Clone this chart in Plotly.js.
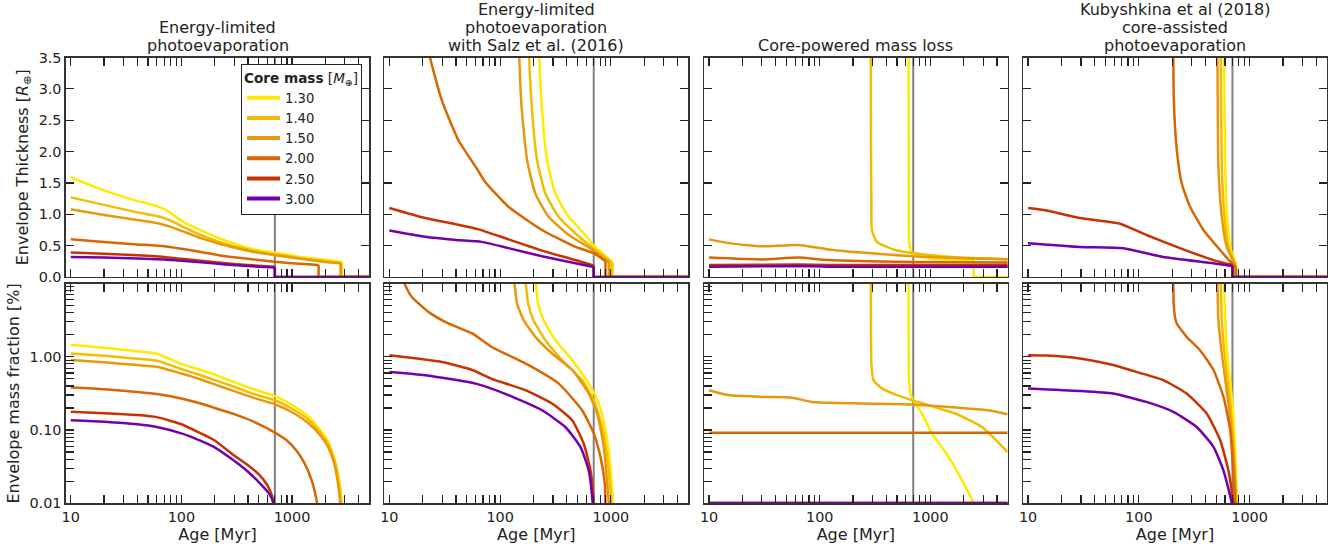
<!DOCTYPE html>
<html><head><meta charset="utf-8">
<script src="https://cdn.plot.ly/plotly-3.0.1.min.js"></script>
<style>html,body{margin:0;padding:0;background:#fff}#plot{width:1343px;height:550px}</style>
</head><body><div id="plot"></div><script>
// ---------------- DATA ----------------
const masses = ['1.30','1.40','1.50','2.00','2.50','3.00'];
const referenceAge = 700;
const panelTitles = [
  ['Energy-limited','photoevaporation'],
  ['Energy-limited','photoevaporation','with Salz et al. (2016)'],
  ['Core-powered mass loss'],
  ['Kubyshkina et al (2018)','core-assisted','photoevaporation']
];
const ageTicks = [10,20,30,40,50,60,70,80,90,100,200,300,400,500,600,700,800,900,1000,2000,3000,4000];
const ageTickLabels = {10:'10',100:'100',1000:'1000'};
const thickTicks = [0,0.5,1,1.5,2,2.5,3,3.5];
const fracTicks = [0.01,0.02,0.03,0.04,0.05,0.06,0.07,0.08,0.09,0.1,0.2,0.3,0.4,0.5,0.6,0.7,0.8,0.9,1,2,3,4,5,6,7,8,9,10];
const fracTickLabels = {0.01:'0.01',0.1:'0.10',1:'1.00'};

// Energy-limited: envelope thickness [R_earth]
const el_R_130_t = [10, 18, 37, 60, 74, 104, 148, 209, 295, 449, 690, 1186, 2376, 2830, 2830, 5500];
const el_R_130_v = [1.59, 1.41, 1.23, 1.13, 1.06, 0.88, 0.75, 0.63, 0.54, 0.44, 0.39, 0.32, 0.26, 0.24, 0, 0];
const el_R_140_t = [10, 20, 40, 64, 80, 110, 150, 210, 300, 450, 690, 1200, 2000, 2780, 2780, 5500];
const el_R_140_v = [1.27, 1.15, 1.03, 0.96, 0.90, 0.78, 0.67, 0.57, 0.49, 0.42, 0.36, 0.30, 0.25, 0.22, 0, 0];
const el_R_150_t = [10, 20, 40, 64, 80, 110, 150, 210, 300, 450, 690, 1200, 2000, 2750, 2750, 5500];
const el_R_150_v = [1.08, 0.99, 0.91, 0.85, 0.80, 0.71, 0.62, 0.54, 0.47, 0.40, 0.35, 0.29, 0.24, 0.22, 0, 0];
const el_R_200_t = [10, 20, 40, 70, 100, 150, 250, 400, 690, 1000, 1740, 1740, 5500];
const el_R_200_v = [0.60, 0.56, 0.52, 0.49, 0.45, 0.40, 0.33, 0.29, 0.245, 0.22, 0.19, 0, 0];
const el_R_250_t = [10, 20, 40, 70, 100, 150, 250, 400, 700, 700, 5500];
const el_R_250_v = [0.39, 0.37, 0.345, 0.32, 0.29, 0.26, 0.22, 0.19, 0.165, 0, 0];
const el_R_300_t = [10, 20, 40, 70, 100, 150, 250, 400, 700, 700, 5500];
const el_R_300_v = [0.32, 0.31, 0.295, 0.28, 0.26, 0.235, 0.20, 0.175, 0.15, 0, 0];
// Energy-limited: envelope mass fraction [%]
const el_F_130_t = [10, 20, 40, 60, 100, 150, 200, 300, 450, 700, 1000, 1400, 1800, 2100, 2400, 2650, 2800, 2860];
const el_F_130_v = [1.46, 1.33, 1.19, 1.10, 0.80, 0.66, 0.57, 0.45, 0.36, 0.29, 0.22, 0.155, 0.10, 0.072, 0.042, 0.022, 0.012, 0.005];
const el_F_140_t = [10, 20, 40, 60, 100, 150, 200, 300, 450, 700, 1000, 1400, 1800, 2100, 2400, 2620, 2760, 2820];
const el_F_140_v = [1.11, 1.03, 0.94, 0.88, 0.68, 0.56, 0.48, 0.39, 0.31, 0.255, 0.195, 0.14, 0.092, 0.066, 0.04, 0.021, 0.011, 0.005];
const el_F_150_t = [10, 20, 40, 60, 100, 150, 200, 300, 450, 700, 1000, 1400, 1800, 2100, 2400, 2600, 2730, 2790];
const el_F_150_v = [0.90, 0.84, 0.77, 0.73, 0.59, 0.49, 0.42, 0.34, 0.275, 0.225, 0.175, 0.125, 0.085, 0.06, 0.036, 0.019, 0.01, 0.005];
const el_F_200_t = [10, 20, 40, 60, 100, 150, 200, 300, 450, 700, 900, 1100, 1300, 1500, 1650, 1740, 1770];
const el_F_200_v = [0.38, 0.36, 0.33, 0.31, 0.27, 0.23, 0.20, 0.165, 0.13, 0.092, 0.072, 0.052, 0.035, 0.021, 0.012, 0.007, 0.004];
const el_F_250_t = [10, 20, 40, 60, 100, 150, 200, 300, 400, 500, 600, 660, 700, 710];
const el_F_250_v = [0.177, 0.17, 0.16, 0.15, 0.12, 0.09, 0.072, 0.045, 0.033, 0.025, 0.0175, 0.0125, 0.007, 0.003];
const el_F_300_t = [10, 20, 40, 60, 100, 150, 200, 300, 400, 500, 600, 660, 700, 710];
const el_F_300_v = [0.136, 0.13, 0.12, 0.11, 0.09, 0.071, 0.058, 0.038, 0.027, 0.0195, 0.0145, 0.0115, 0.007, 0.003];

// Energy-limited with Salz et al. (2016)
const sz_R_130_t = [215, 226, 239, 265, 315, 416, 589, 700, 850, 1040, 1040, 5500];
const sz_R_130_v = [6, 3.5, 2.66, 1.87, 1.33, 0.96, 0.67, 0.50, 0.37, 0.23, 0, 0];
const sz_R_140_t = [174, 183, 194, 215, 256, 338, 496, 700, 850, 1014, 1014, 5500];
const sz_R_140_v = [6, 3.5, 2.66, 1.87, 1.33, 0.96, 0.67, 0.45, 0.34, 0.23, 0, 0];
const sz_R_150_t = [141, 149, 157, 175, 208, 274, 416, 677, 800, 957, 957, 5500];
const sz_R_150_v = [6, 3.5, 2.66, 1.87, 1.33, 0.96, 0.67, 0.44, 0.34, 0.24, 0, 0];
const sz_R_200_t = [20, 23.3, 29.7, 42, 60, 73, 119, 239, 479, 700, 893, 893, 5500];
const sz_R_200_v = [4.2, 3.5, 2.82, 2.18, 1.76, 1.52, 1.12, 0.75, 0.48, 0.38, 0.25, 0, 0];
const sz_R_250_t = [10, 21, 40, 64, 119, 239, 479, 700, 700, 5500];
const sz_R_250_v = [1.10, 0.94, 0.84, 0.76, 0.60, 0.42, 0.27, 0.18, 0, 0];
const sz_R_300_t = [10, 21, 40, 68, 119, 239, 479, 700, 700, 5500];
const sz_R_300_v = [0.74, 0.64, 0.59, 0.56, 0.46, 0.33, 0.22, 0.16, 0, 0];
const sz_F_130_t = [205, 211, 220, 247, 315, 447, 631, 778, 893, 971, 1040, 1050];
const sz_F_130_v = [15, 9.8, 5.35, 3.16, 1.69, 0.90, 0.43, 0.23, 0.10, 0.043, 0.01, 0.005];
const sz_F_140_t = [168, 171, 179, 200, 256, 362, 550, 700, 834, 926, 1014, 1020];
const sz_F_140_v = [15, 9.8, 5.35, 3.16, 1.69, 0.90, 0.48, 0.255, 0.11, 0.043, 0.01, 0.005];
const sz_F_150_t = [130, 135, 142, 163, 208, 294, 447, 631, 752, 863, 957, 965];
const sz_F_150_v = [15, 9.8, 5.35, 3.16, 1.87, 1.11, 0.66, 0.315, 0.168, 0.059, 0.01, 0.005];
const sz_F_200_t = [12.5, 13.8, 15.9, 22.5, 34, 56, 84, 169, 338, 550, 700, 805, 881, 893, 900];
const sz_F_200_v = [15, 9.8, 6.6, 4.1, 2.85, 2.08, 1.36, 0.81, 0.43, 0.186, 0.09, 0.043, 0.0186, 0.01, 0.005];
const sz_F_250_t = [10, 14.8, 30, 56, 84, 169, 294, 447, 569, 655, 700, 710];
const sz_F_250_v = [1.05, 0.98, 0.85, 0.66, 0.50, 0.35, 0.23, 0.136, 0.065, 0.028, 0.01, 0.005];
const sz_F_300_t = [10, 21, 60, 119, 239, 388, 531, 631, 685, 700];
const sz_F_300_v = [0.62, 0.56, 0.43, 0.30, 0.186, 0.11, 0.059, 0.028, 0.01, 0.005];

// Core-powered mass loss
const cp_R_130_t = [633, 635, 638, 641, 660, 700, 964, 1500, 2460, 2460, 5500];
const cp_R_130_v = [6, 3.5, 1.5, 0.6, 0.44, 0.35, 0.30, 0.28, 0.27, 0, 0];
const cp_R_140_t = [288, 290, 291, 293, 296, 329, 481, 964, 1932, 5500];
const cp_R_140_v = [6, 3.5, 2.0, 1.23, 0.75, 0.56, 0.43, 0.35, 0.31, 0.28];
const cp_R_150_t = [10, 15, 30, 64, 120, 240, 682, 1932, 5500];
const cp_R_150_v = [0.60, 0.54, 0.49, 0.51, 0.44, 0.39, 0.33, 0.30, 0.28];
const cp_R_200_t = [10, 30, 64, 120, 682, 5500];
const cp_R_200_v = [0.31, 0.28, 0.31, 0.27, 0.24, 0.23];
const cp_R_250_t = [10, 64, 120, 5500];
const cp_R_250_v = [0.19, 0.20, 0.19, 0.19];
const cp_R_300_t = [10, 64, 120, 5500];
const cp_R_300_v = [0.165, 0.175, 0.165, 0.165];
const cp_F_130_t = [633, 635, 636, 638, 645, 658, 700, 839, 1035, 1462, 1932, 2460, 2480];
const cp_F_130_v = [30, 9.8, 2.0, 0.66, 0.42, 0.32, 0.255, 0.168, 0.09, 0.043, 0.0206, 0.01, 0.008];
const cp_F_140_t = [288, 290, 291, 293, 306, 365, 553, 964, 1679, 2931, 5000];
const cp_F_140_v = [30, 9.8, 2.0, 0.81, 0.48, 0.37, 0.283, 0.218, 0.168, 0.11, 0.05];
const cp_F_150_t = [10, 15, 30, 55, 85, 240, 682, 1932, 3365, 5000];
const cp_F_150_v = [0.35, 0.30, 0.283, 0.278, 0.242, 0.23, 0.223, 0.20, 0.186, 0.164];
const cp_F_200_t = [10, 5000];
const cp_F_200_v = [0.092, 0.092];
const cp_F_250_t = [10, 5000];
const cp_F_250_v = [0.0101, 0.0101];
const cp_F_300_t = [10, 5000];
const cp_F_300_v = [0.0101, 0.0101];

// Kubyshkina et al (2018) core-assisted photoevaporation
const ku_R_130_t = [586, 589, 602, 627, 668, 755, 755, 5500];
const ku_R_130_v = [6, 3.5, 1.76, 0.96, 0.48, 0.19, 0, 0];
const ku_R_140_t = [547, 550, 561, 593, 644, 749, 749, 5500];
const ku_R_140_v = [6, 3.5, 1.76, 0.96, 0.48, 0.19, 0, 0];
const ku_R_150_t = [510, 513, 523, 561, 622, 741, 741, 5500];
const ku_R_150_v = [6, 3.5, 1.76, 0.96, 0.48, 0.19, 0, 0];
const ku_R_200_t = [204, 205, 207, 220, 244, 290, 383, 542, 714, 755, 755, 5500];
const ku_R_200_v = [6, 3.5, 2.82, 2.03, 1.49, 1.12, 0.75, 0.43, 0.19, 0.15, 0, 0];
const ku_R_250_t = [10, 14.6, 29.3, 67.4, 117, 235, 472, 700, 700, 5500];
const ku_R_250_v = [1.10, 1.06, 0.94, 0.85, 0.67, 0.46, 0.27, 0.19, 0, 0];
const ku_R_300_t = [10, 29.3, 72.3, 166, 472, 700, 700, 5500];
const ku_R_300_v = [0.54, 0.48, 0.46, 0.32, 0.22, 0.175, 0, 0];
const ku_F_130_t = [586, 589, 602, 627, 700, 741, 770, 775];
const ku_F_130_v = [30, 9.8, 3.16, 1.11, 0.23, 0.05, 0.01, 0.005];
const ku_F_140_t = [547, 550, 561, 593, 668, 722, 760, 765];
const ku_F_140_v = [30, 9.8, 3.16, 1.11, 0.23, 0.05, 0.01, 0.005];
const ku_F_150_t = [510, 513, 523, 561, 644, 714, 755, 760];
const ku_F_150_v = [30, 9.8, 3.16, 1.11, 0.23, 0.05, 0.01, 0.005];
const ku_F_200_t = [204, 205, 206, 212, 220, 270, 357, 472, 581, 668, 741, 750];
const ku_F_200_v = [30, 9.8, 5.5, 3.5, 2.85, 1.87, 1.23, 0.66, 0.283, 0.10, 0.01, 0.005];
const ku_F_250_t = [10, 14.6, 29.3, 58.7, 83, 166, 270, 410, 542, 644, 714, 720];
const ku_F_250_v = [1.05, 1.04, 0.95, 0.77, 0.66, 0.48, 0.315, 0.168, 0.073, 0.028, 0.01, 0.005];
const ku_F_300_t = [10, 29.3, 58.7, 117, 205, 333, 472, 581, 690, 700];
const ku_F_300_v = [0.37, 0.342, 0.315, 0.242, 0.177, 0.11, 0.059, 0.028, 0.01, 0.005];

// ---------------- ASSEMBLY ----------------
const panels = [
  {R:[[el_R_130_t,el_R_130_v],[el_R_140_t,el_R_140_v],[el_R_150_t,el_R_150_v],[el_R_200_t,el_R_200_v],[el_R_250_t,el_R_250_v],[el_R_300_t,el_R_300_v]],
   F:[[el_F_130_t,el_F_130_v],[el_F_140_t,el_F_140_v],[el_F_150_t,el_F_150_v],[el_F_200_t,el_F_200_v],[el_F_250_t,el_F_250_v],[el_F_300_t,el_F_300_v]]},
  {R:[[sz_R_130_t,sz_R_130_v],[sz_R_140_t,sz_R_140_v],[sz_R_150_t,sz_R_150_v],[sz_R_200_t,sz_R_200_v],[sz_R_250_t,sz_R_250_v],[sz_R_300_t,sz_R_300_v]],
   F:[[sz_F_130_t,sz_F_130_v],[sz_F_140_t,sz_F_140_v],[sz_F_150_t,sz_F_150_v],[sz_F_200_t,sz_F_200_v],[sz_F_250_t,sz_F_250_v],[sz_F_300_t,sz_F_300_v]]},
  {R:[[cp_R_130_t,cp_R_130_v],[cp_R_140_t,cp_R_140_v],[cp_R_150_t,cp_R_150_v],[cp_R_200_t,cp_R_200_v],[cp_R_250_t,cp_R_250_v],[cp_R_300_t,cp_R_300_v]],
   F:[[cp_F_130_t,cp_F_130_v],[cp_F_140_t,cp_F_140_v],[cp_F_150_t,cp_F_150_v],[cp_F_200_t,cp_F_200_v],[cp_F_250_t,cp_F_250_v],[cp_F_300_t,cp_F_300_v]]},
  {R:[[ku_R_130_t,ku_R_130_v],[ku_R_140_t,ku_R_140_v],[ku_R_150_t,ku_R_150_v],[ku_R_200_t,ku_R_200_v],[ku_R_250_t,ku_R_250_v],[ku_R_300_t,ku_R_300_v]],
   F:[[ku_F_130_t,ku_F_130_v],[ku_F_140_t,ku_F_140_v],[ku_F_150_t,ku_F_150_v],[ku_F_200_t,ku_F_200_v],[ku_F_250_t,ku_F_250_v],[ku_F_300_t,ku_F_300_v]]}
];

// ---------------- STYLE / LAYOUT ----------------
const FONT = 'DejaVu Sans';
const W = 1343, H = 550;
const colors = ['#FFEA00','#F0BE00','#E8980A','#D96600','#C83200','#7300AA'];
const colPx = [[65.7,369.3],[384.3,688.3],[704,1007.7],[1023,1327]];
const rowPx = [[57.5,277],[283.5,503.3]];
const lineW = 2.5;

const traces = [];
const layout = {
  width: W, height: H, margin:{l:0,r:0,t:0,b:0},
  paper_bgcolor:'#fff', plot_bgcolor:'#fff',
  font:{family:FONT, size:14.4, color:'#222'},
  showlegend:true,
  legend:{x:362/W, xanchor:'right', y:1-64/H, yanchor:'top',
    bgcolor:'#fff', bordercolor:'#222', borderwidth:1,
    font:{family:FONT,size:13.2,color:'#222'}, itemwidth:33, tracegroupgap:0,
    title:{text:'<b>Core mass</b> [<i>M</i><sub>⊕</sub>]', font:{family:FONT,size:13.6,color:'#222'}, side:'top'}},
  annotations:[]
};

const common = {showline:true, linecolor:'#333', linewidth:1.3, ticks:'inside', ticklen:8, tickwidth:1.2,
  tickcolor:'#222', showgrid:false, zeroline:false, tickfont:{family:FONT,size:14.4,color:'#222'}, fixedrange:true};

function addSeries(tArr, vArr, xn, yn, color) {
  // smooth part drawn as spline; a final drop to zero (envelope lost) drawn straight
  const k = vArr.indexOf(0);
  const cut = k > 0 ? k : tArr.length;
  traces.push({x:tArr.slice(0, cut), y:vArr.slice(0, cut), xaxis:xn, yaxis:yn, mode:'lines',
    line:{color:color, width:lineW, shape:'spline', smoothing:0.5}, showlegend:false, hoverinfo:'skip'});
  if (k > 0) {
    traces.push({x:tArr.slice(k - 1), y:vArr.slice(k - 1), xaxis:xn, yaxis:yn, mode:'lines',
      line:{color:color, width:lineW}, showlegend:false, hoverinfo:'skip'});
  }
}

for (let r = 0; r < 2; r++) {
  for (let c = 0; c < 4; c++) {
    const idx = r*4 + c + 1;
    const xn = 'x' + (idx === 1 ? '' : idx), yn = 'y' + (idx === 1 ? '' : idx);
    const xa = Object.assign({}, common, {
      type:'log', range:[Math.log10(9), Math.log10(5000)],
      domain:[colPx[c][0]/W, colPx[c][1]/W], anchor:yn, mirror:'ticks',
      tickmode:'array', tickvals:ageTicks,
      ticktext: ageTicks.map(v => ageTickLabels[v] || ''),
      showticklabels: r === 1
    });
    if (r === 1) xa.title = {text:'Age [Myr]', font:{family:FONT,size:16,color:'#222'}, standoff:4};
    let ya;
    if (r === 0) {
      ya = Object.assign({}, common, {
        range:[0,3.5], domain:[1-rowPx[0][1]/H, 1-rowPx[0][0]/H], anchor:xn, mirror:'ticks',
        tickmode:'array', tickvals:thickTicks, ticktext:thickTicks.map(v => v.toFixed(1)),
        showticklabels: c === 0
      });
      if (c === 0) ya.title = {text:'Envelope Thickness [<i>R</i><sub>⊕</sub>]', font:{family:FONT,size:16,color:'#222'}, standoff:6};
    } else {
      ya = Object.assign({}, common, {
        type:'log', range:[-2,1], domain:[1-rowPx[1][1]/H, 1-rowPx[1][0]/H], anchor:xn, mirror:true,
        tickmode:'array', tickvals:fracTicks, ticktext:fracTicks.map(v => fracTickLabels[v] || ''),
        showticklabels: c === 0
      });
      if (c === 0) ya.title = {text:'Envelope mass fraction [%]', font:{family:FONT,size:16,color:'#222'}, standoff:6};
    }
    layout['xaxis' + (idx === 1 ? '' : idx)] = xa;
    layout['yaxis' + (idx === 1 ? '' : idx)] = ya;

    // reference age vertical line
    const yl = r === 0 ? [0, 3.5] : [0.01, 10];
    traces.push({x:[referenceAge, referenceAge], y:yl, xaxis:xn, yaxis:yn, mode:'lines',
      line:{color:'#808080', width:2}, showlegend:false, hoverinfo:'skip'});

    const set = r === 0 ? panels[c].R : panels[c].F;
    set.forEach((s, i) => addSeries(s[0], s[1], xn, yn, colors[i]));
  }
}
// legend entries
masses.forEach((m, i) => {
  traces.push({x:[null], y:[null], xaxis:'x', yaxis:'y', mode:'lines', name:m,
    line:{color:colors[i], width:4}, showlegend:true});
});

// panel titles
panelTitles.forEach((lines, c) => {
  const cx = (colPx[c][0] + colPx[c][1]) / 2 / W;
  const n = lines.length;
  lines.forEach((txt, k) => {
    const py = 45.5 - 18 * (n - 1 - k);
    layout.annotations.push({text:txt, xref:'paper', yref:'paper', x:cx, y:1 - py/H,
      xanchor:'center', yanchor:'middle', showarrow:false, borderpad:0,
      font:{family:FONT, size:16, color:'#222'}});
  });
});

Plotly.newPlot('plot', traces, layout, {staticPlot:true, displayModeBar:false});
</script></body></html>
